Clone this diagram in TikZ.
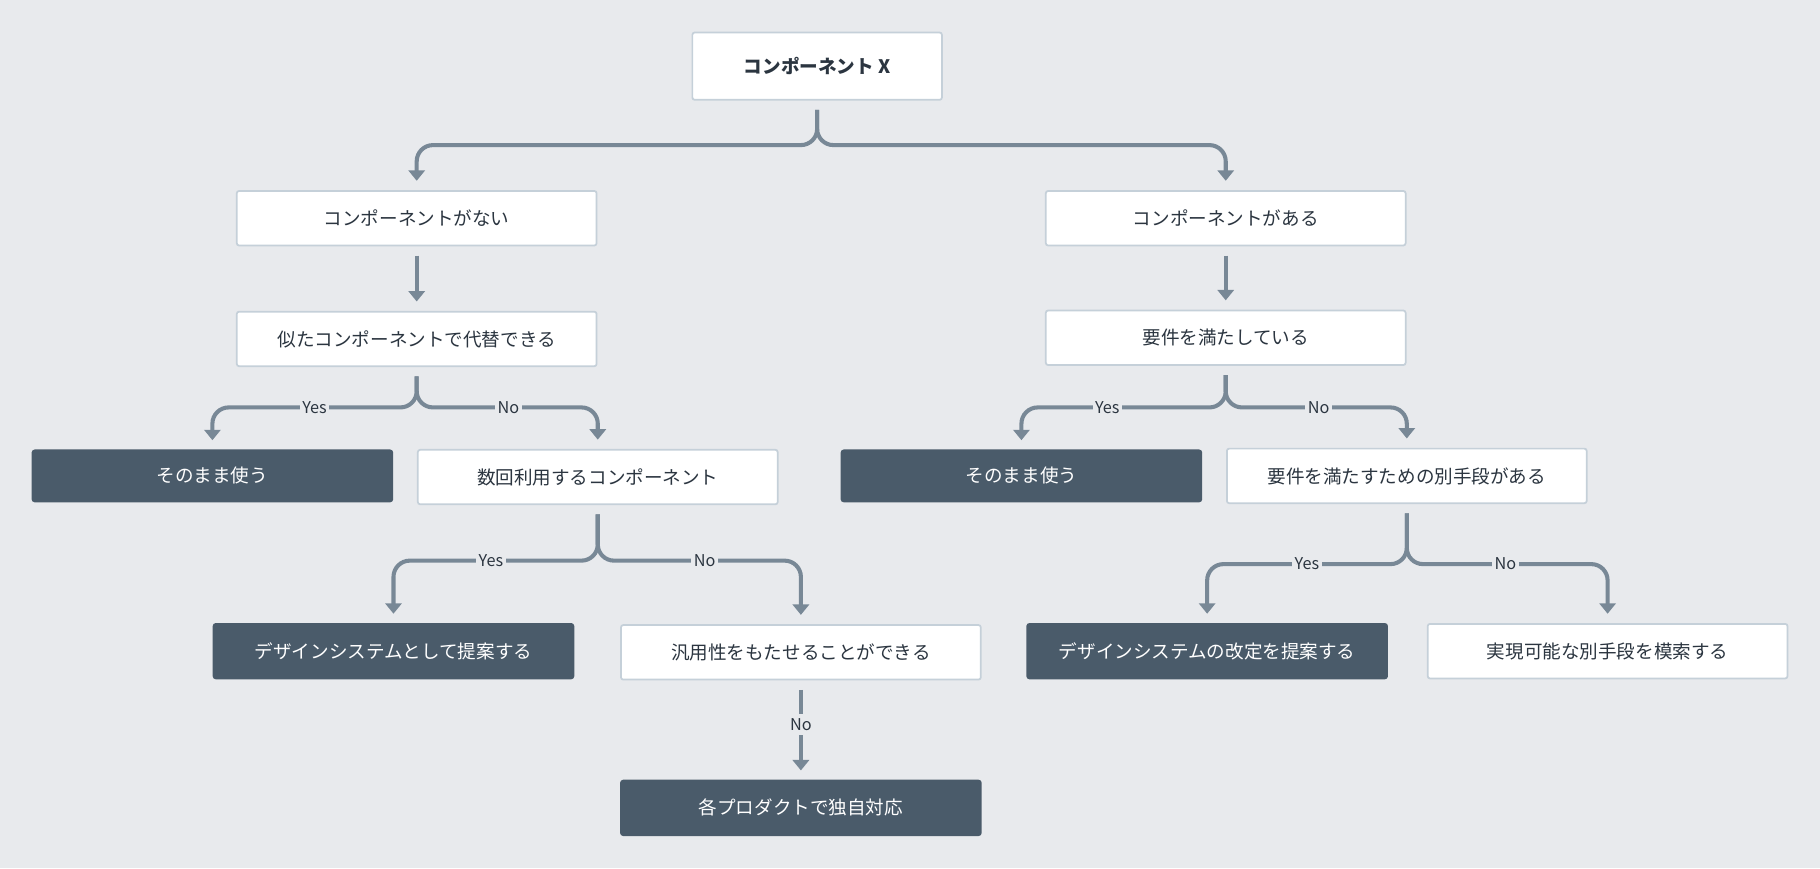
\documentclass[tikz,border=0pt]{standalone}
\usepackage{fontspec}
\setmainfont{Noto Sans CJK JP}
\usetikzlibrary{arrows.meta}
\definecolor{bg}{HTML}{E8EAED}
\definecolor{ln}{HTML}{788896}
\definecolor{dk}{HTML}{4A5B6A}
\definecolor{bd}{HTML}{C5D0D9}
\definecolor{tx}{HTML}{2B3540}
\begin{document}
\begin{tikzpicture}[x=1pt,y=-1pt,
  box/.style={draw=bd,line width=1.5pt,fill=white,rounded corners=2pt,minimum width=310pt,minimum height=47pt,inner sep=0pt,text=tx,font=\fontsize{16}{18}\selectfont},
  dbox/.style={box,fill=dk,draw=dk,text=white},
  arr/.style={draw=ln,line width=3.5pt,-{Triangle[length=9pt,width=14pt]},rounded corners=14pt},
  ln/.style={draw=ln,line width=3.5pt,rounded corners=14pt},
  lab/.style={fill=bg,text=tx,inner sep=2pt,font=\fontsize{14}{16}\selectfont}]
\fill[bg] (0,0) rectangle (1568,748);
\useasboundingbox (0,0) rectangle (1568,748);
\node[box,minimum width=215pt,minimum height=58pt,font=\bfseries\fontsize{16}{18}\selectfont] (X) at (704,57) {コンポーネント X};
\node[box] (A) at (359,188) {コンポーネントがない};
\node[box] (B) at (1056,188) {コンポーネントがある};
\node[box] (A2) at (359,292) {似たコンポーネントで代替できる};
\node[box] (B2) at (1056,291) {要件を満たしている};
\node[dbox,minimum height=44pt] (A3) at (183,410) {そのまま使う};
\node[box] (A4) at (515,411) {数回利用するコンポーネント};
\node[dbox,minimum height=44pt] (B3) at (880,410) {そのまま使う};
\node[box] (B4) at (1212,410) {要件を満たすための別手段がある};
\node[dbox] (A5) at (339,561) {デザインシステムとして提案する};
\node[box] (A6) at (690,562) {汎用性をもたせることができる};
\node[dbox] (A7) at (690,696) {各プロダクトで独自対応};
\node[dbox] (B5) at (1040,561) {デザインシステムの改定を提案する};
\node[box] (B6) at (1385,561) {実現可能な別手段を模索する};
% X
\draw[arr] ([yshift=-8pt]X.south) -- (704,125) -| ([yshift=8pt]A.north);
\draw[arr] ([yshift=-8pt]X.south) -- (704,125) -| ([yshift=8pt]B.north);
\draw[arr] ([yshift=-8pt]A.south) -- ([yshift=8pt]A2.north);
\draw[arr] ([yshift=-8pt]B.south) -- ([yshift=8pt]B2.north);
% A2
\draw[arr] ([yshift=-8pt]A2.south) -- (359,351) -| ([yshift=8pt]A3.north);
\draw[arr] ([yshift=-8pt]A2.south) -- (359,351) -| ([yshift=8pt]A4.north);
\node[lab] (l1) at (271,351) {Yes};
\node[lab] (l2) at (438,351) {No};
% B2
\draw[arr] ([yshift=-8pt]B2.south) -- (1056,351) -| ([yshift=8pt]B3.north);
\draw[arr] ([yshift=-8pt]B2.south) -- (1056,351) -| ([yshift=8pt]B4.north);
\node[lab] (l3) at (954,351) {Yes};
\node[lab] (l4) at (1136,351) {No};
% A4
\draw[arr] ([yshift=-8pt]A4.south) -- (515,483) -| ([yshift=8pt]A5.north);
\draw[arr] ([yshift=-8pt]A4.south) -- (515,483) -| ([yshift=8pt]A6.north);
\node[lab] (l5) at (423,483) {Yes};
\node[lab] (l6) at (607,483) {No};
% B4
\draw[arr] ([yshift=-8pt]B4.south) -- (1212,486) -| ([yshift=8pt]B5.north);
\draw[arr] ([yshift=-8pt]B4.south) -- (1212,486) -| ([yshift=8pt]B6.north);
\node[lab] (l7) at (1126,486) {Yes};
\node[lab] (l8) at (1297,486) {No};
% A6
\draw[arr] ([yshift=-8pt]A6.south) -- ([yshift=8pt]A7.north);
\node[lab,inner ysep=4pt] (l9) at (690,624) {No};
\end{tikzpicture}
\end{document}
